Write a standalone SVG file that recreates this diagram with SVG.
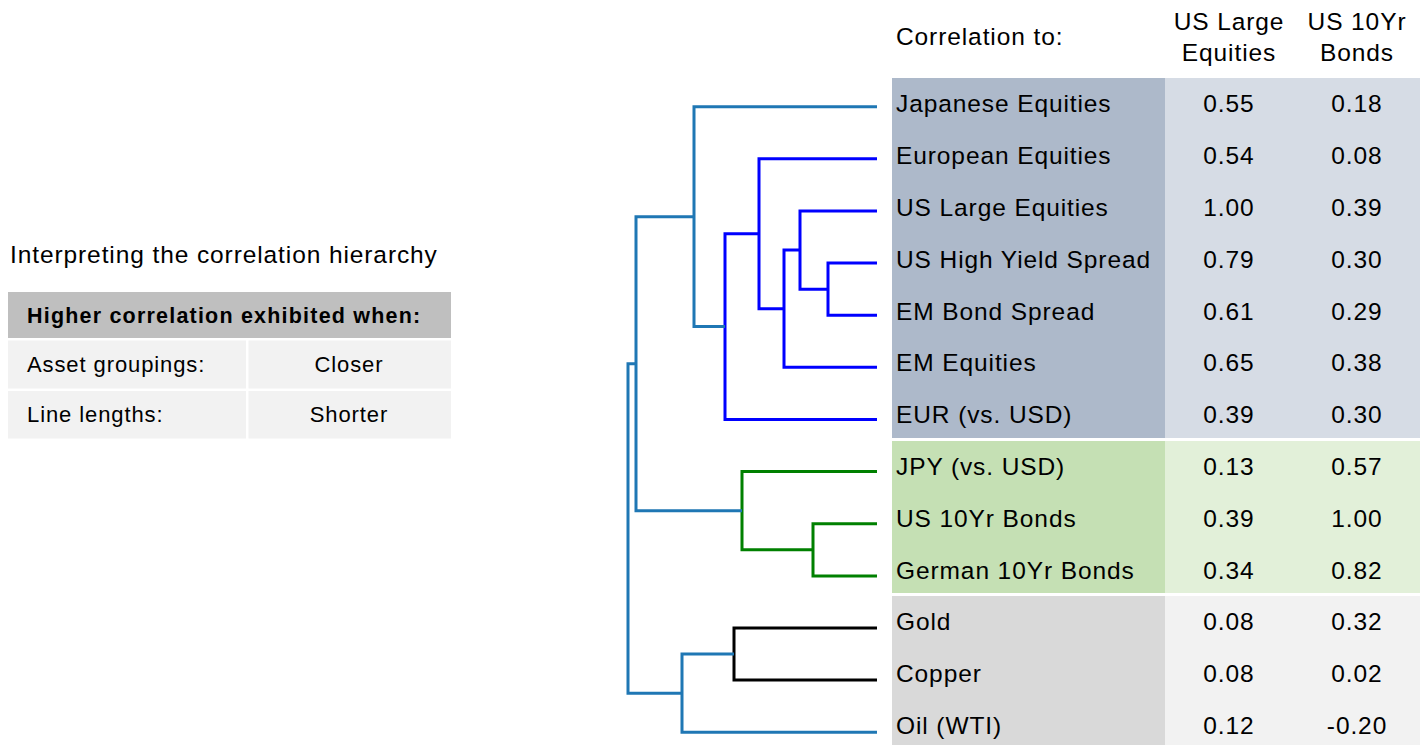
<svg xmlns="http://www.w3.org/2000/svg" width="1425" height="745" viewBox="0 0 1425 745">
  <style>
    text { font-family: "Liberation Sans", Arial, sans-serif; fill: #000; }
    .t { font-size: 24.5px; letter-spacing: 0.9px; }
    .s { font-size: 22px; letter-spacing: 0.9px; }
    .b { font-size: 21.5px; font-weight: bold; letter-spacing: 1.2px; }
    .c { text-anchor: middle; }
    .link { fill: none; stroke-width: 3; stroke-linejoin: miter; stroke-linecap: butt; }
    .c0 { stroke: #1f77b4; }
    .cb { stroke: #0000ff; }
    .cg { stroke: #008000; }
    .ck { stroke: #000000; }
  </style>

  <rect width="1425" height="745" fill="#ffffff"/>

  <!-- legend box on the left -->
  <g id="legend">
    <text class="t" x="10" y="263">Interpreting the correlation hierarchy</text>
    <rect x="8" y="292" width="443" height="46" fill="#bfbfbf"/>
    <rect x="8" y="340.5" width="238" height="48" fill="#f2f2f2"/>
    <rect x="248.5" y="340.5" width="202.5" height="48" fill="#f2f2f2"/>
    <rect x="8" y="391" width="238" height="47.5" fill="#f2f2f2"/>
    <rect x="248.5" y="391" width="202.5" height="47.5" fill="#f2f2f2"/>
    <text class="b" x="27" y="323">Higher correlation exhibited when:</text>
    <text class="s" x="27" y="372">Asset groupings:</text>
    <text class="s c" x="349" y="372">Closer</text>
    <text class="s" x="27" y="422">Line lengths:</text>
    <text class="s c" x="349" y="422">Shorter</text>
  </g>

  <!-- table header -->
  <g id="header">
    <text class="t" x="896" y="45">Correlation to:</text>
    <text class="t c" x="1229" y="30">US Large</text>
    <text class="t c" x="1229" y="61">Equities</text>
    <text class="t c" x="1357" y="30">US 10Yr</text>
    <text class="t c" x="1357" y="61">Bonds</text>
  </g>

  <!-- cluster backgrounds -->
  <g id="bands">
    <rect x="892" y="78" width="273" height="360" fill="#adb9ca"/>
    <rect x="1165" y="78" width="255" height="360" fill="#d6dce5"/>
    <rect x="892" y="441" width="273" height="152" fill="#c5e0b4"/>
    <rect x="1165" y="441" width="255" height="152" fill="#e2f0d9"/>
    <rect x="892" y="596" width="273" height="149" fill="#d9d9d9"/>
    <rect x="1165" y="596" width="255" height="149" fill="#f2f2f2"/>
  </g>

  <!-- dendrogram links -->
  <g id="connectors">
    <path class="link cb" d="M877,263.1 H828 V315.2 H877"/>
    <path class="link cb" d="M877,211 H800 V289.2 H828"/>
    <path class="link cb" d="M800,250.1 H784 V367.3 H877"/>
    <path class="link cb" d="M877,158.8 H759 V308.7 H784"/>
    <path class="link cb" d="M759,233.8 H725 V419.5 H877"/>
    <path class="link cg" d="M877,523.7 H813 V575.9 H877"/>
    <path class="link cg" d="M877,471.6 H742 V549.8 H813"/>
    <path class="link ck" d="M877,628 H734 V680.1 H877"/>
    <path class="link c0" d="M877,106.7 H694 V326.6 H725"/>
    <path class="link c0" d="M694,216.7 H636 V510.7 H742"/>
    <path class="link c0" d="M734,654 H682 V732.3 H877"/>
    <path class="link c0" d="M636,363.7 H628 V693.2 H682"/>
  </g>

  <!-- table rows -->
  <g id="row-japanese-equities"><text class="t" x="896" y="112.3">Japanese Equities</text><text class="t c" x="1229" y="112.3">0.55</text><text class="t c" x="1357" y="112.3">0.18</text></g>
  <g id="row-european-equities"><text class="t" x="896" y="164.1">European Equities</text><text class="t c" x="1229" y="164.1">0.54</text><text class="t c" x="1357" y="164.1">0.08</text></g>
  <g id="row-us-large-equities"><text class="t" x="896" y="215.9">US Large Equities</text><text class="t c" x="1229" y="215.9">1.00</text><text class="t c" x="1357" y="215.9">0.39</text></g>
  <g id="row-us-high-yield-spread"><text class="t" x="896" y="267.7">US High Yield Spread</text><text class="t c" x="1229" y="267.7">0.79</text><text class="t c" x="1357" y="267.7">0.30</text></g>
  <g id="row-em-bond-spread"><text class="t" x="896" y="319.5">EM Bond Spread</text><text class="t c" x="1229" y="319.5">0.61</text><text class="t c" x="1357" y="319.5">0.29</text></g>
  <g id="row-em-equities"><text class="t" x="896" y="371.3">EM Equities</text><text class="t c" x="1229" y="371.3">0.65</text><text class="t c" x="1357" y="371.3">0.38</text></g>
  <g id="row-eur"><text class="t" x="896" y="423.1">EUR (vs. USD)</text><text class="t c" x="1229" y="423.1">0.39</text><text class="t c" x="1357" y="423.1">0.30</text></g>
  <g id="row-jpy"><text class="t" x="896" y="474.9">JPY (vs. USD)</text><text class="t c" x="1229" y="474.9">0.13</text><text class="t c" x="1357" y="474.9">0.57</text></g>
  <g id="row-us-10yr-bonds"><text class="t" x="896" y="526.7">US 10Yr Bonds</text><text class="t c" x="1229" y="526.7">0.39</text><text class="t c" x="1357" y="526.7">1.00</text></g>
  <g id="row-german-10yr-bonds"><text class="t" x="896" y="578.5">German 10Yr Bonds</text><text class="t c" x="1229" y="578.5">0.34</text><text class="t c" x="1357" y="578.5">0.82</text></g>
  <g id="row-gold"><text class="t" x="896" y="630.3">Gold</text><text class="t c" x="1229" y="630.3">0.08</text><text class="t c" x="1357" y="630.3">0.32</text></g>
  <g id="row-copper"><text class="t" x="896" y="682.1">Copper</text><text class="t c" x="1229" y="682.1">0.08</text><text class="t c" x="1357" y="682.1">0.02</text></g>
  <g id="row-oil"><text class="t" x="896" y="733.9">Oil (WTI)</text><text class="t c" x="1229" y="733.9">0.12</text><text class="t c" x="1357" y="733.9">-0.20</text></g>
</svg>
